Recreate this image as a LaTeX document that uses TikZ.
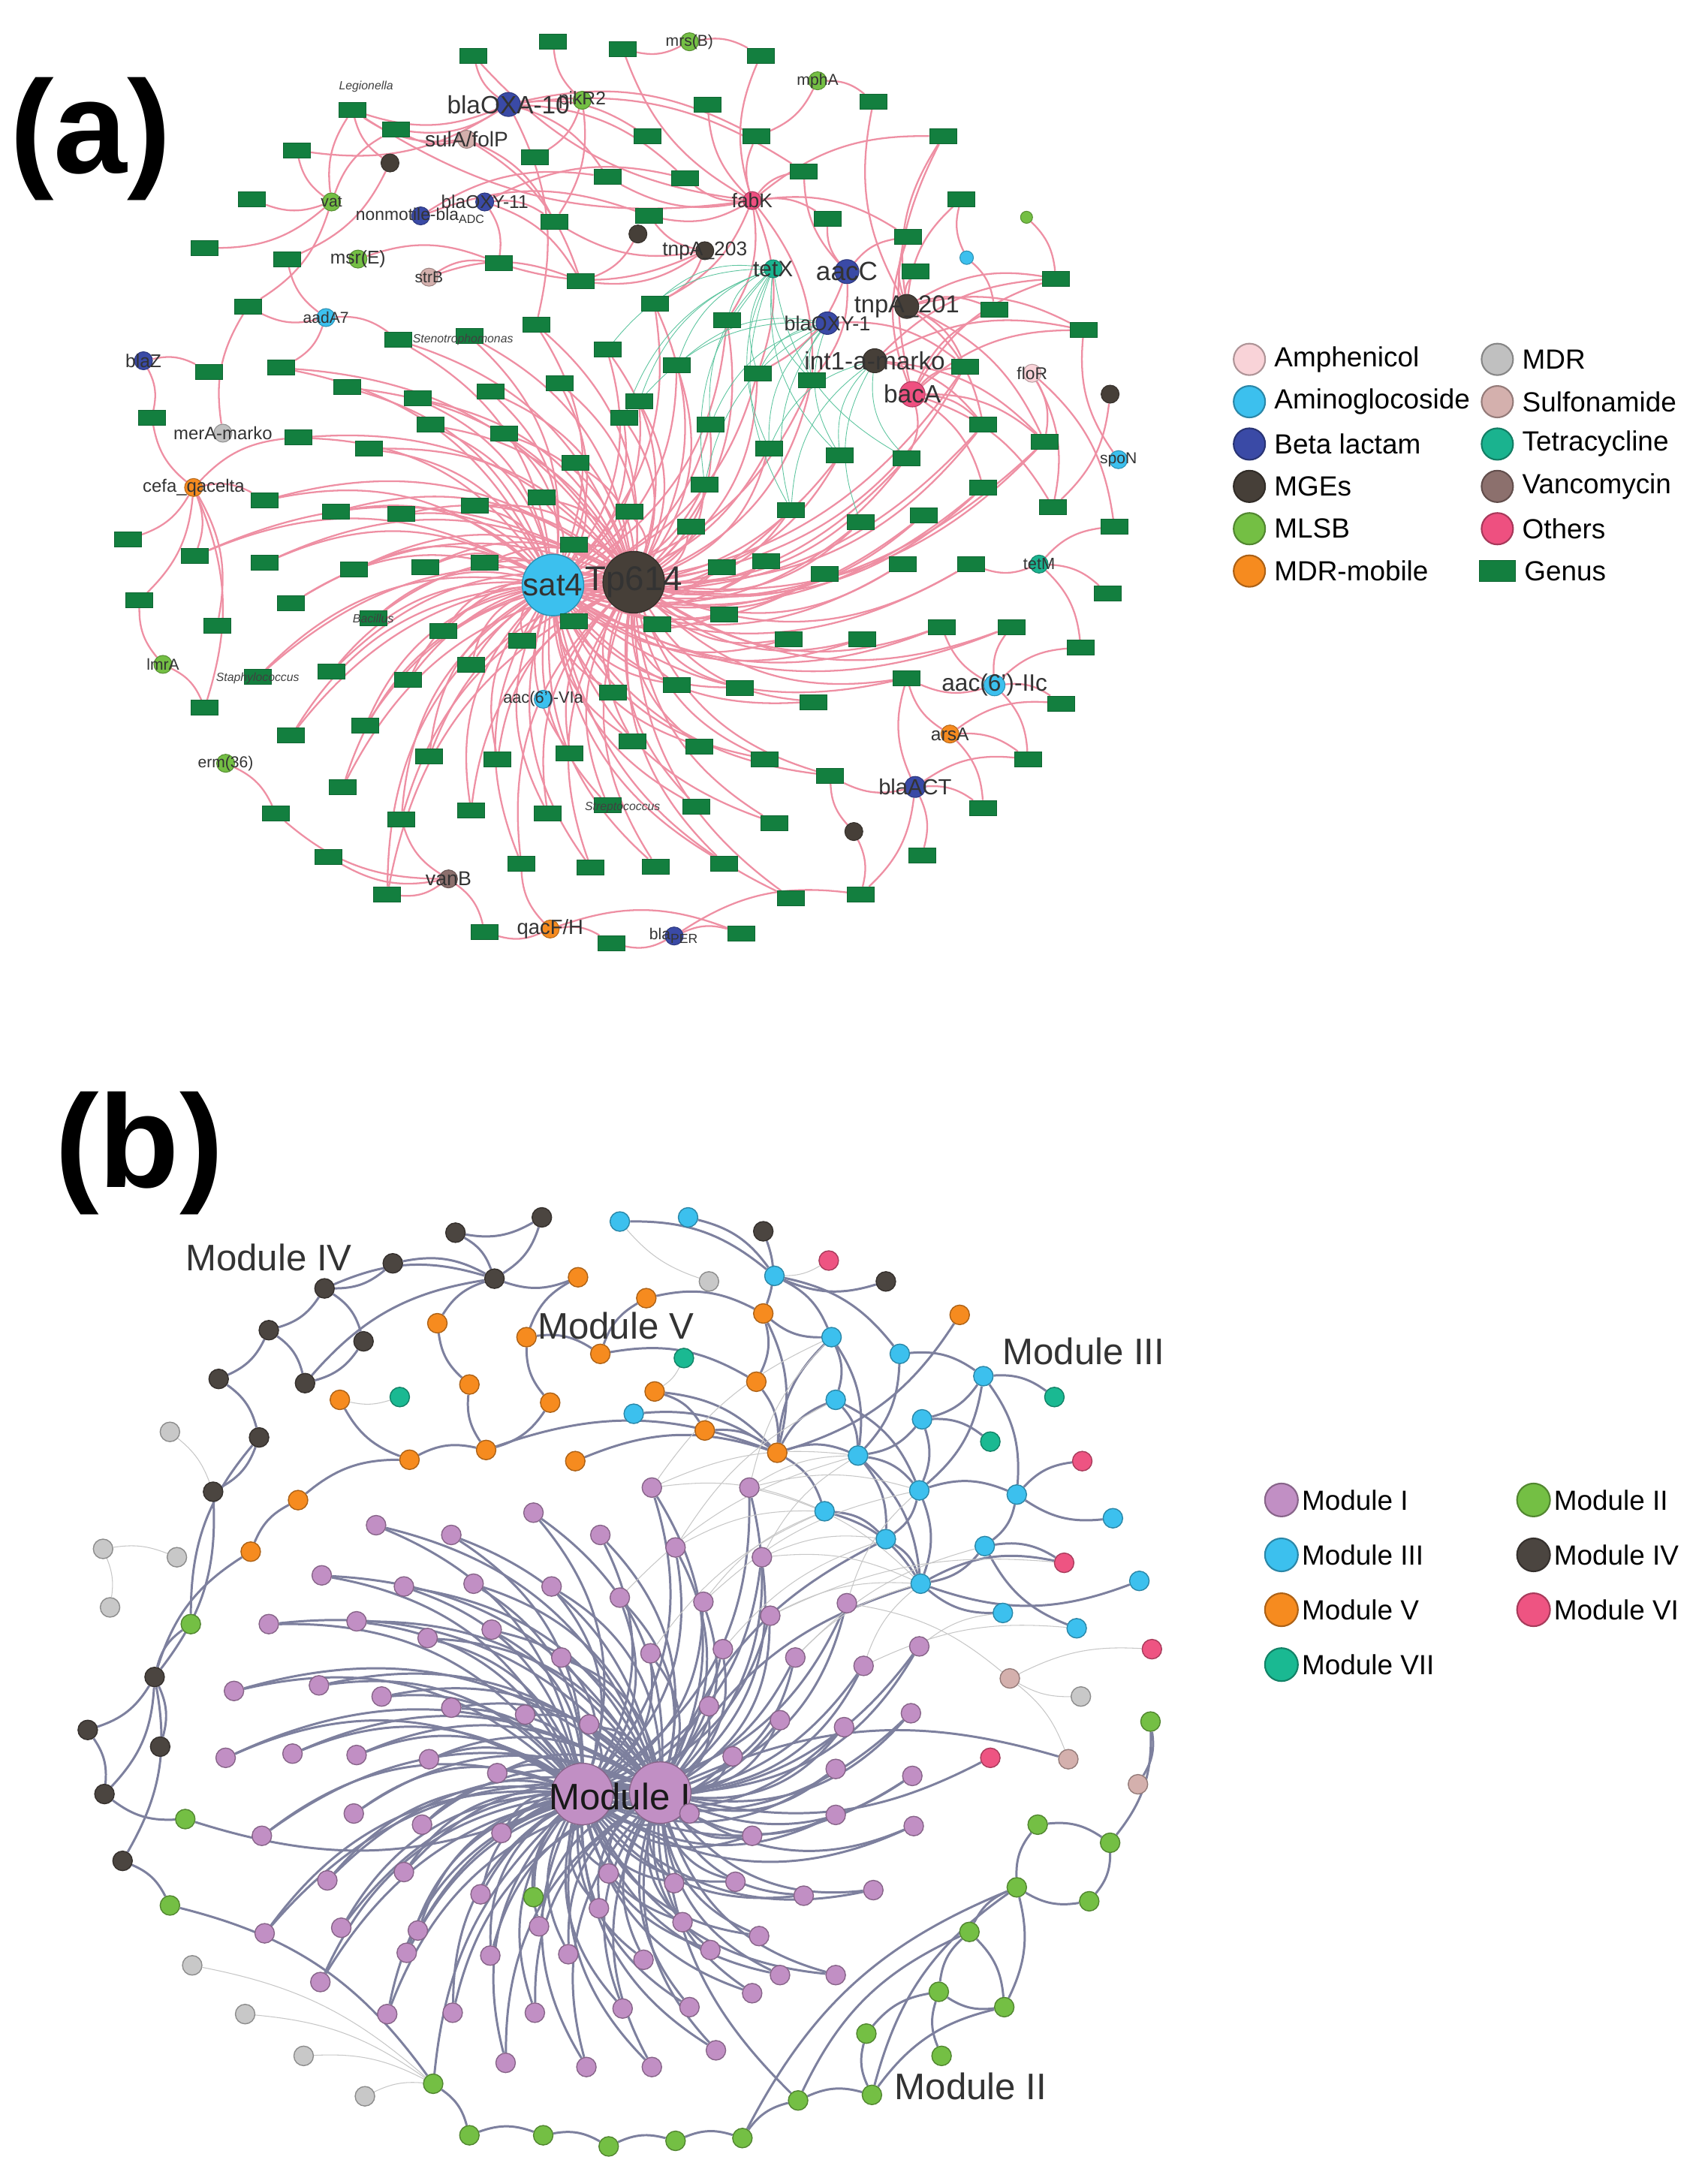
\documentclass[tikz,border=0pt]{standalone}
\usepackage{fontspec}
\setmainfont{Liberation Sans}
\usetikzlibrary{positioning}

\definecolor{amphcol}{HTML}{F9D3D8}
\definecolor{aminocol}{HTML}{3CC0EE}
\definecolor{betacol}{HTML}{3A4AA6}
\definecolor{mgecol}{HTML}{463F38}
\definecolor{mlsbcol}{HTML}{74BF44}
\definecolor{mdrmcol}{HTML}{F68B1F}
\definecolor{mdrcol}{HTML}{C0C0C0}
\definecolor{sulfcol}{HTML}{D4B0AD}
\definecolor{tetcol}{HTML}{1AB38F}
\definecolor{vancol}{HTML}{8C706D}
\definecolor{othcol}{HTML}{EE5080}
\definecolor{genuscol}{HTML}{137F3F}
\definecolor{edgepink}{HTML}{EE8FA3}
\definecolor{edgeteal}{HTML}{5CC49E}
\definecolor{edgeslate}{HTML}{7D809E}
\definecolor{modI}{HTML}{C18FC4}
\definecolor{modII}{HTML}{74BF44}
\definecolor{modIII}{HTML}{3CC0EE}
\definecolor{modIV}{HTML}{4B4540}
\definecolor{modV}{HTML}{F68B1F}
\definecolor{modVI}{HTML}{EE5482}
\definecolor{modVII}{HTML}{1AB992}
\definecolor{modgray}{HTML}{C8C8C8}

\pgfdeclarelayer{bg}
\pgfsetlayers{bg,main}

\begin{document}
\begin{tikzpicture}[x=0.01855cm, y=-0.01855cm,
		genus/.style={rectangle, fill=genuscol, draw=genuscol!80!black, line width=0.2pt, minimum width=0.36cm, minimum height=0.2cm, inner sep=0pt},
		arg/.style={circle, fill=#1, draw=#1!75!black, line width=0.3pt, inner sep=0pt, minimum size=0.24cm},
		hub/.style={circle, fill=#1, draw=#1!75!black, line width=0.4pt, inner sep=0pt, minimum size=0.82cm},
		lab/.style={font=\fontsize{#1}{#1}\selectfont, text=black!80, inner sep=0pt},
		gname/.style={font=\fontsize{4.5}{4.5}\selectfont\itshape, text=black!75, inner sep=0pt},
		pinkedge/.style={draw=edgepink, line width=0.65pt},
		tealedge/.style={draw=edgeteal, line width=0.25pt},
		mnode/.style={circle, fill=#1, draw=#1!70!black, line width=0.4pt, inner sep=0pt, minimum size=0.26cm},
		slate/.style={draw=edgeslate, line width=0.85pt},
		faint/.style={draw=black!22, line width=0.3pt},
		legdot/.style={circle, fill=#1, draw=#1!70!black, line width=0.6pt, inner sep=0pt, minimum size=0.42cm},
		legtext/.style={font=\fontsize{10.5}{12}\selectfont, inner sep=0pt, anchor=west},
		modlab/.style={font=\fontsize{14}{14}\selectfont, text=black!80},
		panel/.style={font=\fontsize{50}{50}\selectfont\bfseries, inner sep=0pt}]
	\useasboundingbox (0,0) rectangle (1226,1568);

	% (a) resistance genes and genera
	\node[panel] (pa) at (65,100) {(a)};
	\node[hub=aminocol, label={[lab=12]center:sat4}] (sat) at (397,420) {};
	\node[hub=mgecol, label={[lab=13]center:Tp614}] (tp) at (455,418) {};

	\node[arg=betacol, minimum size=0.32cm, label={[lab=9.5]center:blaOXA-10}] (oxa) at (365,75) {};
	\node[arg=mlsbcol, label={[lab=7]center:pikR2}] (pikr) at (418,72) {};
	\node[arg=sulfcol, label={[lab=8]center:sulA/folP}] (sul) at (335,100) {};
	\node[arg=mlsbcol, label={[lab=6]center:mrs(B)}] (mrsb) at (495,30) {};
	\node[arg=mlsbcol, label={[lab=6]center:mphA}] (mpha) at (587,58) {};
	\node[arg=mgecol] (mga) at (280,117) {};
	\node[arg=mlsbcol, label={[lab=6]center:vat}] (vat) at (238,145) {};
	\node[arg=betacol, label={[lab=6.5]center:{nonmotile-bla\textsubscript{ADC}}}] (adc) at (302,155) {};
	\node[arg=betacol, label={[lab=7]center:blaOXY-11}] (oxyb) at (348,145) {};
	\node[arg=othcol, label={[lab=7.5]center:fabK}] (fabk) at (540,144) {};
	\node[arg=mgecol] (mgb) at (458,168) {};
	\node[arg=mgecol, label={[lab=7.5]center:tnpA\_203}] (tnpc) at (506,180) {};
	\node[arg=tetcol, label={[lab=8.5]center:tetX}] (tetx) at (555,193) {};
	\node[arg=betacol, minimum size=0.32cm, label={[lab=10]center:aacC}] (aacc) at (608,195) {};
	\node[arg=aminocol, minimum size=0.18cm] (amdot) at (694,185) {};
	\node[arg=mlsbcol, minimum size=0.16cm] (mldot) at (737,156) {};
	\node[arg=mlsbcol, label={[lab=7]center:msr(E)}] (msre) at (257,186) {};
	\node[arg=sulfcol, label={[lab=6]center:strB}] (strb) at (308,199) {};
	\node[arg=aminocol, label={[lab=6]center:aadA7}] (aada) at (234,228) {};
	\node[arg=betacol, minimum size=0.3cm, label={[lab=7.7]center:blaOXY-1}] (oxya) at (594,232) {};
	\node[arg=mgecol, minimum size=0.32cm, label={[lab=9.3]center:tnpA\_201}] (tnpa) at (651,220) {};
	\node[arg=mgecol, minimum size=0.32cm, label={[lab=9.5]center:int1-a-marko}] (intl) at (628,259) {};
	\node[arg=othcol, minimum size=0.34cm, label={[lab=9.5]center:bacA}] (baca) at (655,283) {};
	\node[arg=amphcol, label={[lab=6.5]center:floR}] (flor) at (741,268) {};
	\node[arg=mgecol] (mgc) at (797,283) {};
	\node[arg=aminocol, label={[lab=6]center:spoN}] (spon) at (803,330) {};
	\node[arg=betacol, label={[lab=7]center:blaZ}] (blaz) at (103,259) {};
	\node[arg=mdrcol, label={[lab=6.8]center:merA-marko}] (mera) at (160,311) {};
	\node[arg=mdrmcol, label={[lab=6.8]center:cefa\_qacelta}] (cefa) at (139,350) {};
	\node[arg=mlsbcol, label={[lab=6]center:lmrA}] (lmra) at (117,477) {};
	\node[arg=mlsbcol, label={[lab=6]center:erm(36)}] (erm) at (162,548) {};
	\node[arg=tetcol, label={[lab=6.2]center:tetM}] (tetm) at (746,405) {};
	\node[arg=aminocol, minimum size=0.28cm, label={[lab=9]center:aac(6')-IIc}] (aacf) at (714,492) {};
	\node[arg=aminocol, label={[lab=6.2]center:aac(6')-VIa}] (aacv) at (390,502) {};
	\node[arg=mdrmcol, label={[lab=7]center:arsA}] (arsa) at (682,527) {};
	\node[arg=betacol, minimum size=0.28cm, label={[lab=8.3]center:blaACT}] (act) at (657,565) {};
	\node[arg=mgecol] (mgd) at (613,597) {};
	\node[arg=vancol, label={[lab=7.6]center:vanB}] (vanb) at (322,631) {};
	\node[arg=mdrmcol, label={[lab=7.8]center:qacF/H}] (qac) at (395,667) {};
	\node[arg=betacol, label={[lab=6]center:{bla\textsubscript{PER}}}] (blap) at (484,672) {};

	\foreach \x/\y [count=\i] in {286/244, 337/241, 385/233, 436/251, 470/218, 522/230,
		202/264, 249/278, 300/286, 352/281, 402/275, 459/288, 486/262, 544/268, 583/273, 693/263,
		214/314, 265/322, 309/305, 362/311, 413/332, 448/300, 510/305, 552/322, 603/327, 651/329, 706/305, 750/317,
		190/359, 241/367, 288/369, 341/363, 389/357, 452/367, 506/348, 568/366, 618/375, 663/370, 706/350,
		140/399, 190/404, 254/409, 305/407, 348/404, 412/391, 496/378, 518/407, 550/403, 592/412, 648/405, 697/405,
		209/433, 268/444, 318/453, 375/460, 412/446, 472/448, 520/441, 566/459, 619/459, 676/450, 726/450,
		185/486, 238/482, 293/488, 338/477, 440/497, 486/492, 531/494, 584/504, 651/487,
		209/528, 262/521, 308/543, 357/545, 409/541, 454/532, 502/536, 549/545, 596/557,
		246/565, 288/588, 338/582, 393/584, 436/578, 500/579, 556/591,
		278/642, 374/620, 424/623, 471/622, 520/620, 568/645} {
		\node[genus] (i\i) at (\x,\y) {};
		\begin{pgfonlayer}{bg}
			\draw[pinkedge] (i\i) to[bend left=26] (sat);
			\draw[pinkedge] (i\i) to[bend left=26] (tp);
		\end{pgfonlayer}
	}

	\foreach \x/\y [count=\i] in {340/40, 397/30, 447/35, 546/40, 627/73, 253/79, 465/98, 508/75,
		213/108, 284/93, 384/113, 436/127, 492/128, 543/98, 577/123, 677/98, 181/143, 398/159,
		466/155, 594/157, 652/170, 690/143, 147/178, 206/186, 358/189, 417/202, 657/195, 178/220,
		714/222, 758/200, 778/237, 109/300, 92/387, 100/431, 156/449, 147/508, 198/584, 236/615,
		348/669, 439/677, 532/670, 618/642, 662/614, 706/580, 738/545, 762/505, 776/465, 795/426,
		800/378, 756/364, 150/267}
		\node[genus] (o\i) at (\x,\y) {};

	\node[gname, anchor=west] at (243,62) {Legionella};
	\node[gname, anchor=west] at (296,244) {Stenotrophomonas};
	\node[gname] at (268,444) {Bacillus};
	\node[gname] at (185,487) {Staphylococcus};
	\node[gname] at (447,580) {Streptococcus};

	\begin{pgfonlayer}{bg}
		\foreach \s/\t in {oxa/o1, oxa/o6, oxa/o9, oxa/o10, oxa/o7, oxa/o14, oxa/o15, oxa/o12, oxa/o13,
			pikr/o2, pikr/o11, pikr/o18, sul/o6, sul/o10, sul/o18, sul/o26, vat/o6, vat/o9, vat/o17,
			vat/o23, vat/o28, vat/o10, mga/o6, mga/o24, adc/o12, adc/o19, oxyb/o18, oxyb/o26, oxyb/o25,
			oxyb/o13, fabk/o3, fabk/o4, fabk/o8, fabk/o12, fabk/o13, fabk/o14, fabk/o15, fabk/o16,
			fabk/o20, fabk/o21, fabk/o19, fabk/o1, fabk/o6, mrsb/o3, mrsb/o4, mpha/o5, mpha/o14,
			tnpc/o19, tnpc/o18, tnpc/o26, tnpc/o25, mgb/o26, tnpa/o5, tnpa/o16, tnpa/o21, tnpa/o22,
			tnpa/o27, tnpa/o29, tnpa/o30, tnpa/o31, baca/o29, baca/o30, baca/o31, baca/o21, baca/o16,
			intl/o31, intl/o30, aacc/o20, aacc/o21, aacc/o15, amdot/o22, amdot/o29, mldot/o30,
			msre/o25, strb/o25, strb/o26, aada/o24, aada/o28, blaz/o51, blaz/o32, mera/o28,
			cefa/o33, cefa/o34, cefa/o35, cefa/o36, cefa/o32, lmra/o34, lmra/o36, erm/o37, vanb/o37,
			vanb/o38, vanb/o39, qac/o39, qac/o40, qac/o41, blap/o40, blap/o41, blap/o42, act/o43,
			act/o44, act/o45, act/o42, arsa/o44, arsa/o45, arsa/o46, aacf/o46, aacf/o47, aacf/o45,
			tetm/o48, tetm/o47, tetm/o49, spon/o31, mgc/o50, flor/o50, flor/o49, baca/o50, mgd/o42,
			tnpa/i16, tnpa/i27, tnpa/i28, baca/i16, baca/i26, baca/i27, baca/i28, baca/i39, intl/i27,
			intl/i28, flor/i28, fabk/i14, fabk/i15, fabk/i6, aacc/i15, aacc/i14, oxya/i16, act/i71,
			act/i80, arsa/i71, aacf/i62, aacf/i61, aacf/i71, tetm/i51, mgd/i80, cefa/i29, cefa/i40,
			cefa/i17, vanb/i88, vanb/i82, qac/i89, aada/i1, aada/i7, tnpc/i5, fabk/i5, oxa/i3}
			\draw[pinkedge] (\s) to[bend left=20] (\t);
		\foreach \s/\t in {tetx/i5, tetx/i6, tetx/i12, tetx/i13, tetx/i14, tetx/i15, tetx/i22,
			tetx/i23, tetx/i24, tetx/i25, tetx/i26, tetx/i35, tetx/i36, oxya/i13, oxya/i14, oxya/i15,
			oxya/i23, oxya/i24, oxya/i25, oxya/i35, oxya/i36, intl/i24, intl/i25, intl/i26,
			intl/i36, intl/i37, tetx/i4, oxya/i12}
			\draw[tealedge] (\s) to[bend right=25] (\t);
	\end{pgfonlayer}

	\foreach \c/\t [count=\k] in {amphcol/Amphenicol, aminocol/Aminoglocoside, betacol/Beta lactam,
		mgecol/MGEs, mlsbcol/MLSB, mdrmcol/MDR-mobile} {
		\node[legdot=\c] (la\k) at (897,{227.6+30.4*\k}) {};
		\node[legtext, right=3pt of la\k] {\t};
	}
	\foreach \c/\t [count=\k] in {mdrcol/MDR, sulfcol/Sulfonamide, tetcol/Tetracycline,
		vancol/Vancomycin, othcol/Others} {
		\node[legdot=\c] (lb\k) at (1075,{227.6+30.4*\k}) {};
		\node[legtext, right=3pt of lb\k] {\t};
	}
	\node[rectangle, fill=genuscol, draw=genuscol!80!black, minimum width=0.48cm, minimum height=0.28cm, inner sep=0pt] (lb6) at (1075,410) {};
	\node[legtext, right=3pt of lb6] {Genus};

	% (b) modules
	\node[panel] (pb) at (100,828) {(b)};
	\node[mnode=modI, minimum size=0.82cm] (ma) at (418,1288) {};
	\node[mnode=modI, minimum size=0.82cm] (mb) at (474,1287) {};
	\node[modlab, text=black!90] at (445,1290) {Module I};

	\foreach \x/\y [count=\i] in {468/1068, 538/1068, 383/1086, 431/1102, 485/1111, 547/1118, 270/1095, 324/1102,
		231/1131, 290/1139, 340/1137, 396/1139, 445/1147, 505/1150, 553/1160, 608/1151,
		193/1166, 256/1164, 307/1176, 353/1170, 403/1190, 467/1187, 519/1184, 571/1190, 620/1196, 660/1182,
		168/1214, 229/1210, 274/1218, 324/1226, 377/1231, 423/1238, 509/1225, 560/1235, 606/1240, 654/1230,
		162/1262, 210/1259, 256/1260, 308/1263, 357/1273, 526/1261, 600/1270, 655/1275,
		188/1318, 254/1302, 303/1310, 360/1316, 495/1302, 540/1318, 600/1303, 656/1311,
		235/1350, 290/1344, 345/1360, 437/1345, 484/1352, 528/1351, 577/1361, 627/1357,
		190/1388, 245/1384, 300/1386, 387/1383, 430/1370, 490/1380, 545/1390, 600/1418,
		230/1423, 292/1402, 352/1404, 408/1403, 462/1407, 510/1400, 560/1418,
		278/1446, 325/1445, 384/1445, 447/1442, 495/1441, 540/1431,
		363/1481, 421/1484, 468/1484, 514/1472} {
		\node[mnode=modI] (p\i) at (\x,\y) {};
		\begin{pgfonlayer}{bg}
			\draw[slate] (p\i) to[bend left=28] (ma);
			\draw[slate] (p\i) to[bend left=28] (mb);
		\end{pgfonlayer}
	}

	\foreach \x/\y [count=\i] in {327/885, 389/874, 282/907, 355/918, 233/925, 193/955, 261/963, 219/993,
		157/990, 186/1032, 153/1071, 111/1204, 63/1242, 115/1254, 75/1288, 88/1336, 548/884, 636/920}
		\node[mnode=modIV] (d\i) at (\x,\y) {};
	\foreach \x/\y [count=\i] in {415/917, 464/932, 548/943, 314/950, 378/960, 431/972, 337/994, 395/1007,
		470/999, 543/992, 244/1005, 506/1027, 349/1041, 294/1048, 413/1049, 558/1043, 214/1077, 180/1114, 689/944}
		\node[mnode=modV] (v\i) at (\x,\y) {};
	\foreach \x/\y [count=\i] in {445/877, 494/874, 556/916, 597/960, 646/972, 706/988, 600/1005, 662/1019,
		616/1045, 660/1070, 730/1073, 592/1085, 636/1105, 707/1110, 799/1090, 661/1137, 818/1135,
		720/1158, 773/1169, 455/1015}
		\node[mnode=modIII] (c\i) at (\x,\y) {};
	\foreach \x/\y [count=\i] in {595/905, 777/1049, 764/1122, 827/1184, 711/1262}
		\node[mnode=modVI] (r\i) at (\x,\y) {};
	\foreach \x/\y [count=\i] in {287/1003, 491/975, 711/1035, 757/1003}
		\node[mnode=modVII] (t\i) at (\x,\y) {};
	\foreach \x/\y [count=\i] in {74/1112, 127/1118, 79/1154, 122/1028, 509/920, 776/1218, 138/1411,
		176/1446, 218/1476, 262/1505}
		\node[mnode=modgray] (s\i) at (\x,\y) {};
	\foreach \x/\y [count=\i] in {725/1205, 767/1263, 817/1281}
		\node[mnode=sulfcol] (u\i) at (\x,\y) {};
	\foreach \x/\y [count=\i] in {137/1166, 133/1306, 122/1368, 383/1362, 311/1496, 337/1533, 390/1533,
		437/1541, 485/1537, 533/1535, 573/1508, 626/1504, 622/1460, 676/1476, 674/1430, 696/1387,
		721/1441, 730/1355, 745/1310, 782/1365, 797/1323, 826/1236}
		\node[mnode=modII] (e\i) at (\x,\y) {};

	\begin{pgfonlayer}{bg}
		\foreach \s/\t in {d1/d4, d2/d4, d3/d4, d5/d4, d3/d5, d5/d6, d6/d9, d5/d7, d7/d8, d8/d4, d6/d8,
			d9/d10, d10/d11, d11/d12, d12/d13, d12/d14, d12/d15, d12/d16, d13/d15, d12/e1, e1/d10,
			d12/v18, v18/v17, v17/v14, v14/v11, v14/v13, v13/v7, v7/v4, v4/d4, v1/d4, v5/v1, v5/v6,
			v6/v2, v2/v3, v3/v10, v10/v16, v9/v16, v12/v16, v6/v10, v8/v13, v8/v5, v9/v12, v15/v16,
			v19/v16, v3/v16, v13/v16, d2/d1, d17/v3, d18/c3, c1/c3, c2/c3, c3/c4, c3/c5, c4/c7, c5/c6,
			c6/c8, c7/c9, c8/c9, c9/c10, c10/c11, c10/c13, c12/c13, c13/c16, c14/c16, c11/c14, c15/c11,
			c17/c16, c18/c16, c19/c14, c6/c11, c5/c9, c4/c9, c9/c16, c10/c16, c6/c10, c7/c10, c8/c10,
			v16/c9, v16/c12, v16/c4, v16/c7, c20/v16, c12/c16, c9/c13, c16/r3, c14/r3, c11/r2, c6/t4,
			c8/t3, c4/v3, r5/mb, e4/ma, e5/e6, e6/e7, e7/e8, e8/e9, e9/e10, e10/e11, e11/e12, e12/e13,
			e13/e15, e15/e16, e16/e18, e18/e19, e19/e21, e21/e20, e20/e18, e17/e15, e14/e15, e22/e21,
			e16/e17, e18/e17, e11/e16, e10/e18, e12/e17, e12/e18, e5/ma, e11/mb, e3/e5, e2/d15,
			mb/c16, mb/c13, mb/u2, ma/e2, d16/e3, e22/u3}
			\draw[slate] (\s) to[bend left=20] (\t);
		\foreach \s/\t in {s1/s2, s1/s3, s4/d11, s5/c1, s6/u1, s7/e5, s8/e5, s9/e5, s10/e5, t1/v11,
			t2/v9, r1/c3, u1/u2, u1/r4, p1/c9, p1/c12, p2/c9, p2/c10, p5/c12, p6/c9, p6/c16, p14/c12,
			p15/c16, p16/c10, p23/c13, p24/c16, p25/c16, p26/c18, p15/r3, p16/u1, p2/c4, p5/c7,
			p14/c10, p22/c12, p13/c9, p24/c14, p25/c19, p6/c13, p1/c4, p2/c16}
			\draw[faint] (\s) to[bend left=15] (\t);
	\end{pgfonlayer}

	\node[modlab] at (193,903) {Module IV};
	\node[modlab] at (442,952) {Module V};
	\node[modlab] at (778,970) {Module III};
	\node[modlab] at (697,1498) {Module II};

	\foreach \c/\t [count=\k] in {modI/Module I, modIII/Module III, modV/Module V, modVII/Module VII} {
		\node[legdot=\c, minimum size=0.44cm] (lc\k) at (920,{1037.5+39.4*\k}) {};
		\node[legtext, right=1pt of lc\k] {\t};
	}
	\foreach \c/\t [count=\k] in {modII/Module II, modIV/Module IV, modVI/Module VI} {
		\node[legdot=\c, minimum size=0.44cm] (ld\k) at (1101,{1037.5+39.4*\k}) {};
		\node[legtext, right=1pt of ld\k] {\t};
	}
\end{tikzpicture}
\end{document}
